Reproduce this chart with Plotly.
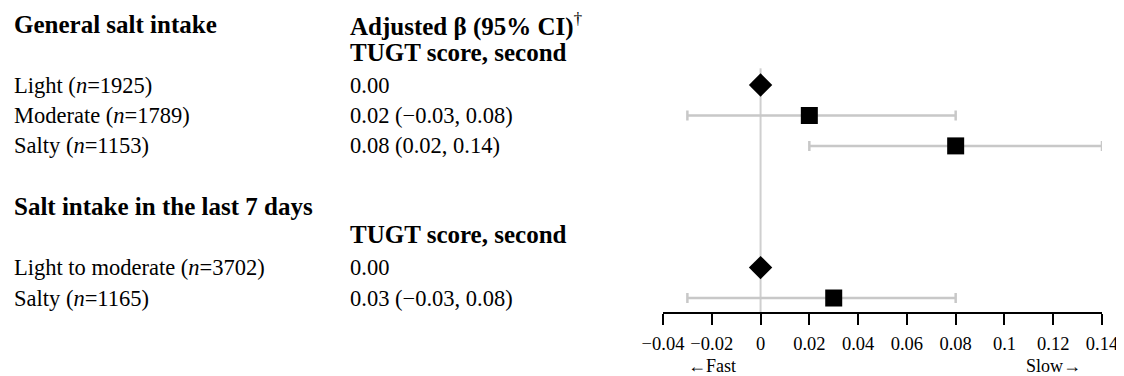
import plotly.graph_objects as go

# ---- data ----
group_titles = ["General salt intake", "Salt intake in the last 7 days"]
col_header = "Adjusted β (95% CI)"
sub_header = "TUGT score, second"
row_labels = ["Light (<i>n</i>=1925)", "Moderate (<i>n</i>=1789)", "Salty (<i>n</i>=1153)",
              "Light to moderate (<i>n</i>=3702)", "Salty (<i>n</i>=1165)"]
estimates = [0.00, 0.02, 0.08, 0.00, 0.03]
ci_low = [None, -0.03, 0.02, None, -0.03]
ci_high = [None, 0.08, 0.14, None, 0.08]
ci_text = ["0.00", "0.02 (−0.03, 0.08)", "0.08 (0.02, 0.14)", "0.00", "0.03 (−0.03, 0.08)"]
is_reference = [True, False, False, True, False]
tick_vals = [-0.04, -0.02, 0, 0.02, 0.04, 0.06, 0.08, 0.1, 0.12, 0.14]
tick_text = ["−0.04", "−0.02", "0", "0.02", "0.04", "0.06", "0.08", "0.1", "0.12", "0.14"]
direction_labels = ["←Fast", "Slow→"]
direction_x = [-0.02, 0.12]

# layout rows (0 = top)
row_pos = [2, 3, 4, 8, 9]
group_rows = [0, 6]
sub_rows = [1, 7]

FONT = "Liberation Serif, Times New Roman, serif"
fs = 22.5
fs_b = 25
fs_tick = 18.5
fig = go.Figure()

ref_x = [e for e, r in zip(estimates, is_reference) if r]
ref_y = [p for p, r in zip(row_pos, is_reference) if r]
ci_x = [e for e, r in zip(estimates, is_reference) if not r]
ci_y = [p for p, r in zip(row_pos, is_reference) if not r]
plus = [h - e for e, h, r in zip(estimates, ci_high, is_reference) if not r]
minus = [e - l for e, l, r in zip(estimates, ci_low, is_reference) if not r]

fig.add_shape(type="line", x0=0, x1=0, y0=1.45, y1=9.46, xref="x", yref="y",
              line=dict(color="#cfcfcf", width=2), layer="below")

fig.add_trace(go.Scatter(
    x=ci_x, y=ci_y, mode="markers",
    marker=dict(symbol="square", size=17, color="black"),
    error_x=dict(type="data", symmetric=False, array=plus, arrayminus=minus,
                 color="#c8c8c8", thickness=2.5, width=5),
    showlegend=False, hoverinfo="skip"))
fig.add_trace(go.Scatter(
    x=ref_x, y=ref_y, mode="markers",
    marker=dict(symbol="diamond", size=18, color="black"),
    showlegend=False, hoverinfo="skip"))

X_LEFT = (12 - 663) / 439
X_MID = (348 - 663) / 439
black = "black"
ann = []
for g, r in zip(group_titles, group_rows):
    ann.append(dict(text=f"<b>{g}</b>", x=X_LEFT, y=r, xref="paper", yref="y",
                    xanchor="left", yanchor="middle", showarrow=False,
                    font=dict(size=fs_b, color=black)))
ann.append(dict(text=f"<b>{col_header}</b><sup>†</sup>", x=X_MID, y=0, xref="paper", yref="y",
                xanchor="left", yanchor="middle", showarrow=False,
                font=dict(size=fs_b, color=black)))
for r in sub_rows:
    ann.append(dict(text=f"<b>{sub_header}</b>", x=X_MID, y=r - 0.08, xref="paper", yref="y",
                    xanchor="left", yanchor="middle", showarrow=False,
                    font=dict(size=fs_b, color=black)))
for lab, txt, r in zip(row_labels, ci_text, row_pos):
    ann.append(dict(text=lab, x=X_LEFT, y=r, xref="paper", yref="y",
                    xanchor="left", yanchor="middle", showarrow=False,
                    font=dict(size=fs, color=black)))
    ann.append(dict(text=txt, x=X_MID, y=r, xref="paper", yref="y",
                    xanchor="left", yanchor="middle", showarrow=False,
                    font=dict(size=fs, color=black)))
for t, xv in zip(direction_labels, direction_x):
    ann.append(dict(text=t, x=xv, y=-0.178, xref="x", yref="paper",
                    xanchor="center", yanchor="middle", showarrow=False,
                    font=dict(size=18, color=black)))

fig.update_layout(
    width=1116, height=368,
    margin=dict(l=655, r=22, t=1, b=64),
    plot_bgcolor="white", paper_bgcolor="white",
    font=dict(family=FONT, color="black", size=fs),
    annotations=ann,
    xaxis=dict(range=[-0.04, 0.14], tickvals=tick_vals, ticktext=tick_text,
               showline=True, linecolor="black", linewidth=1.5, ticks="outside",
               ticklen=11, tickwidth=1.5, tickcolor="black", showgrid=False, zeroline=False,
               tickfont=dict(size=fs_tick, color=black), ticklabelstandoff=3, fixedrange=True),
    yaxis=dict(range=[9.46, -0.5], visible=False, showgrid=False, zeroline=False, fixedrange=True),
)
fig.write_html("out.html")
